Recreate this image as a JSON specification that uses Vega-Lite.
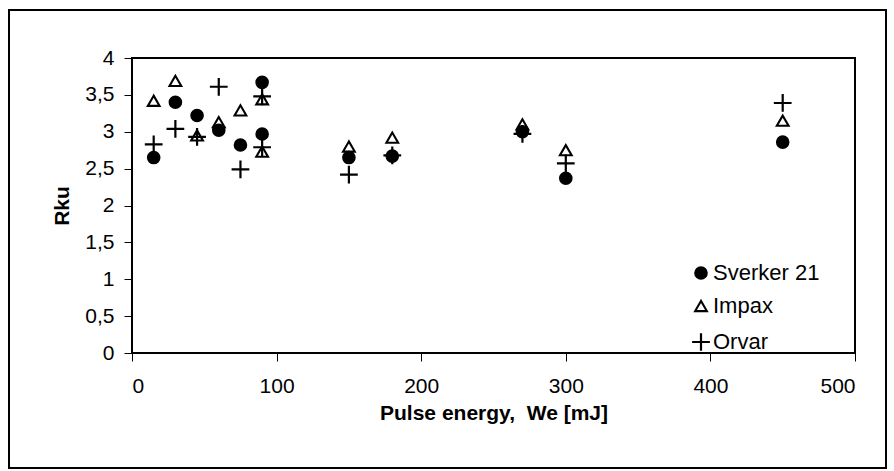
{
  "$schema": "https://vega.github.io/schema/vega-lite/v6.json",
  "width": 723,
  "height": 295,
  "autosize": {"type": "none"},
  "padding": {"left": 132, "top": 58, "right": 39, "bottom": 118},
  "background": "white",
  "config": {
    "font": "Liberation Sans",
    "view": {"stroke": "black", "strokeWidth": 2}
  },
  "layer": [
    {
      "data": {"values": [{"frame": 1}]},
      "mark": {"type": "rect", "fill": null, "stroke": "black", "strokeWidth": 2},
      "encoding": {
        "x": {"value": -123},
        "x2": {"value": 754},
        "y": {"value": -48},
        "y2": {"value": 410}
      }
    },
    {
      "data": {
        "values": [
          {"series": "Sverker 21", "energy": 15, "rku": 2.65},
          {"series": "Sverker 21", "energy": 30, "rku": 3.40},
          {"series": "Sverker 21", "energy": 45, "rku": 3.22},
          {"series": "Sverker 21", "energy": 60, "rku": 3.02},
          {"series": "Sverker 21", "energy": 75, "rku": 2.82},
          {"series": "Sverker 21", "energy": 90, "rku": 3.67},
          {"series": "Sverker 21", "energy": 90, "rku": 2.97},
          {"series": "Sverker 21", "energy": 150, "rku": 2.65},
          {"series": "Sverker 21", "energy": 180, "rku": 2.67},
          {"series": "Sverker 21", "energy": 270, "rku": 3.00},
          {"series": "Sverker 21", "energy": 300, "rku": 2.37},
          {"series": "Sverker 21", "energy": 450, "rku": 2.86},
          {"series": "Impax", "energy": 15, "rku": 3.42},
          {"series": "Impax", "energy": 30, "rku": 3.69},
          {"series": "Impax", "energy": 45, "rku": 2.95},
          {"series": "Impax", "energy": 60, "rku": 3.13},
          {"series": "Impax", "energy": 75, "rku": 3.29},
          {"series": "Impax", "energy": 90, "rku": 3.44},
          {"series": "Impax", "energy": 90, "rku": 2.73},
          {"series": "Impax", "energy": 150, "rku": 2.80},
          {"series": "Impax", "energy": 180, "rku": 2.92},
          {"series": "Impax", "energy": 270, "rku": 3.10},
          {"series": "Impax", "energy": 300, "rku": 2.75},
          {"series": "Impax", "energy": 450, "rku": 3.15},
          {"series": "Orvar", "energy": 15, "rku": 2.83},
          {"series": "Orvar", "energy": 30, "rku": 3.04},
          {"series": "Orvar", "energy": 45, "rku": 2.93},
          {"series": "Orvar", "energy": 60, "rku": 3.61},
          {"series": "Orvar", "energy": 75, "rku": 2.49},
          {"series": "Orvar", "energy": 90, "rku": 3.48},
          {"series": "Orvar", "energy": 90, "rku": 2.79},
          {"series": "Orvar", "energy": 150, "rku": 2.42},
          {"series": "Orvar", "energy": 180, "rku": 2.68},
          {"series": "Orvar", "energy": 270, "rku": 2.97},
          {"series": "Orvar", "energy": 300, "rku": 2.57},
          {"series": "Orvar", "energy": 450, "rku": 3.39}
        ]
      },
      "mark": {"type": "point", "strokeWidth": 2, "opacity": 1},
      "encoding": {
        "x": {
          "field": "energy",
          "type": "quantitative",
          "scale": {"domain": [0, 500], "nice": false, "zero": false},
          "axis": {
            "title": "Pulse energy,\u00a0 We [mJ]",
            "values": [0, 100, 200, 300, 400, 500],
            "grid": false,
            "domain": false,
            "ticks": true,
            "tickColor": "black",
            "tickSize": 8,
            "tickWidth": 1,
            "labelPadding": 14,
            "labelFontSize": 21,
            "labelColor": "black",
            "titleFontSize": 21,
            "titleFontWeight": "bold",
            "titleColor": "black",
            "titlePadding": 6
          }
        },
        "y": {
          "field": "rku",
          "type": "quantitative",
          "scale": {"domain": [0, 4], "nice": false, "zero": false},
          "axis": {
            "title": "Rku",
            "values": [0, 0.5, 1, 1.5, 2, 2.5, 3, 3.5, 4],
            "labelExpr": "replace(toString(datum.value), '.', ',')",
            "grid": false,
            "domain": false,
            "tickColor": "black",
            "tickSize": 8,
            "tickWidth": 1,
            "labelPadding": 10,
            "labelFontSize": 21,
            "labelColor": "black",
            "titleFontSize": 21,
            "titleFontWeight": "bold",
            "titleColor": "black",
            "titlePadding": 12
          }
        },
        "shape": {
          "field": "series",
          "type": "nominal",
          "scale": {
            "domain": ["Sverker 21", "Impax", "Orvar"],
            "range": ["circle", "triangle-up", "M-1.5,0H1.5M0,-1.5V1.5"]
          },
          "legend": {
            "title": null,
            "orient": "none",
            "legendX": 558,
            "legendY": 204,
            "padding": 0,
            "rowPadding": 11,
            "labelFontSize": 22,
            "labelColor": "black",
            "labelOffset": 1,
            "symbolStrokeColor": "black"
          }
        },
        "fill": {
          "field": "series",
          "type": "nominal",
          "scale": {
            "domain": ["Sverker 21", "Impax", "Orvar"],
            "range": ["black", "transparent", "transparent"]
          }
        },
        "stroke": {
          "field": "series",
          "type": "nominal",
          "scale": {
            "domain": ["Sverker 21", "Impax", "Orvar"],
            "range": ["black", "black", "black"]
          }
        },
        "strokeWidth": {
          "field": "series",
          "type": "nominal",
          "scale": {
            "domain": ["Sverker 21", "Impax", "Orvar"],
            "range": [2, 2.2, 2.2]
          }
        },
        "size": {
          "field": "series",
          "type": "nominal",
          "scale": {
            "domain": ["Sverker 21", "Impax", "Orvar"],
            "range": [135, 140, 200]
          }
        }
      }
    }
  ]
}
